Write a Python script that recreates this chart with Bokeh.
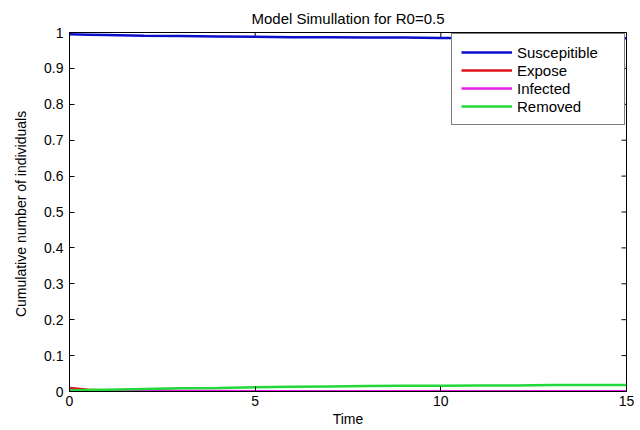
import math
from bokeh.plotting import figure
from bokeh.models import Range1d, FixedTicker, Legend, LegendItem
from bokeh.embed import file_html
from bokeh.resources import INLINE

# ---- data ----
time = [0, 0.5, 1, 2, 3, 4, 5, 6, 7, 8, 9, 10, 11, 12, 13, 14, 15]
susceptible = [0.995, 0.994, 0.993, 0.991, 0.990, 0.989, 0.988, 0.987, 0.987,
               0.986, 0.986, 0.985, 0.985, 0.985, 0.984, 0.984, 0.984]
expose = [0.010, 0.005, 0.003, 0.002, 0.001, 0.001, 0.0005, 0.0005, 0.0, 0.0,
          0.0, 0.0, 0.0, 0.0, 0.0, 0.0, 0.0]
infected = [0.002, 0.002, 0.002, 0.002, 0.0015, 0.0015, 0.001, 0.001, 0.001,
            0.001, 0.001, 0.001, 0.001, 0.001, 0.001, 0.001, 0.001]
removed = [0.003, 0.004, 0.005, 0.007, 0.009, 0.010, 0.012, 0.013, 0.014,
           0.015, 0.016, 0.016, 0.017, 0.017, 0.018, 0.018, 0.018]

series_names = ["Suscepitible", "Expose", "Infected", "Removed"]
series_colors = ["#0a0fc8", "#e0141c", "#e41ee4", "#22d83a"]
x_ticks = [0, 5, 10, 15]
y_ticks = [0, 0.1, 0.2, 0.3, 0.4, 0.5, 0.6, 0.7, 0.8, 0.9, 1]
x_min, x_max = 0, 15
y_min, y_max = 0, 1

FONT = "Liberation Sans"

p = figure(width=640, height=430, output_backend="svg", toolbar_location=None,
           x_range=Range1d(x_min, x_max), y_range=Range1d(y_min, y_max),
           min_border_left=69, min_border_right=14,
           min_border_top=32, min_border_bottom=39,
           title="Model Simullation for R0=0.5")
p.background_fill_color = "white"
p.border_fill_color = "white"
p.outline_line_color = "black"
p.outline_line_width = 1
p.grid.visible = False

p.title.align = "center"
p.title.text_font = FONT
p.title.text_font_size = "15px"
p.title.text_font_style = "normal"
p.title.text_color = "black"
p.title.standoff = 12

p.xaxis.ticker = FixedTicker(ticks=x_ticks)
p.yaxis.ticker = FixedTicker(ticks=y_ticks)
for ax in (p.xaxis[0], p.yaxis[0]):
    ax.major_tick_in = 5
    ax.major_tick_out = 0
    ax.minor_tick_in = 0
    ax.minor_tick_out = 0
    ax.axis_line_color = "black"
    ax.major_tick_line_color = "black"
    ax.major_label_text_font = FONT
    ax.major_label_text_color = "black"
    ax.major_label_text_font_size = "14px"
    ax.axis_label_text_font = FONT
    ax.axis_label_text_font_size = "14px"
    ax.axis_label_text_font_style = "normal"
    ax.axis_label_text_color = "black"
p.xaxis.major_label_standoff = 4
p.yaxis.major_label_standoff = 6
p.xaxis.axis_label = "Time"
p.yaxis.axis_label = "Cumulative number of  individuals"
p.xaxis.axis_label_standoff = 2
p.yaxis.axis_label_standoff = 12

# mirrored inward ticks on the top and right edges of the box (clipped to frame)
p.scatter(x_ticks, [y_max] * len(x_ticks), marker="dash", size=10,
          angle=math.pi / 2, line_color="black", line_width=1)
p.scatter([x_max] * len(y_ticks), y_ticks, marker="dash", size=10,
          line_color="black", line_width=1)

data = [susceptible, expose, infected, removed]
items = []
for name, col, ys in zip(series_names, series_colors, data):
    r = p.line(time, ys, line_color=col, line_width=2.5)
    items.append(LegendItem(label=name, renderers=[r]))

legend = Legend(items=items, location="top_right")
legend.margin = 1
legend.padding = 9
legend.spacing = 0
legend.glyph_width = 51
legend.glyph_height = 18
legend.label_height = 18
legend.label_width = 98
legend.label_standoff = 5
legend.label_text_font = FONT
legend.label_text_font_size = "15px"
legend.label_text_color = "black"
legend.border_line_color = "black"
legend.border_line_width = 1
legend.background_fill_color = "white"
legend.background_fill_alpha = 1
p.add_layout(legend, "center")

open("out.html", "w").write(file_html(p, INLINE))
